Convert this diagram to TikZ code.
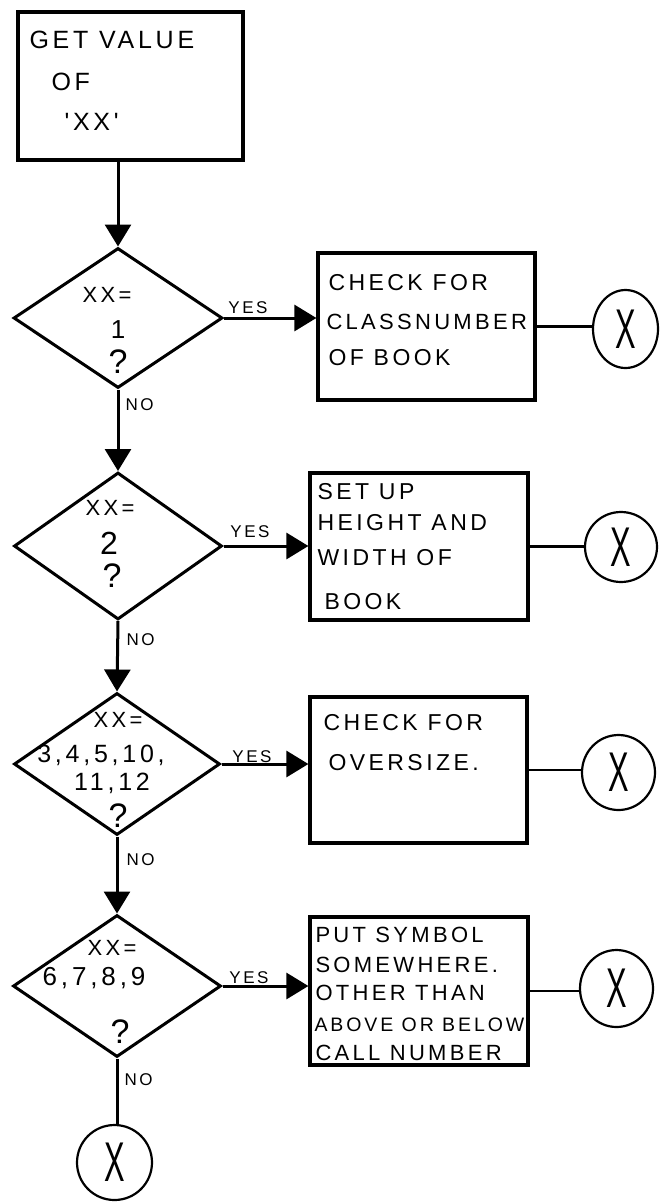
\documentclass[tikz,border=0pt]{standalone}
\usepackage{fontspec}
\newfontfamily\hand{Liberation Sans}[LetterSpace=15]
\usetikzlibrary{shapes.geometric,arrows.meta}
\begin{document}
\begin{tikzpicture}[x=1pt,y=-1pt,
  line width=3pt,
  boxnode/.style={draw, rectangle, inner sep=0pt, line width=3.2pt},
  decnode/.style={draw, diamond, inner sep=0pt, line width=3pt},
  endnode/.style={draw, ellipse, inner sep=0pt, line width=2.2pt, font=\hand\fontsize{56}{56}\selectfont},
  txt/.style={anchor=west, inner sep=0pt, font=\hand\fontsize{23}{23}\selectfont},
  ctxt/.style={inner sep=0pt, font=\hand\fontsize{22}{22}\selectfont},
  qtxt/.style={inner sep=0pt, font=\hand\fontsize{34}{34}\selectfont},
  lbl/.style={inner sep=0pt, font=\hand\fontsize{17}{17}\selectfont},
  flow/.style={-{Triangle[length=22pt,width=26pt]}},
  thinline/.style={line width=2.4pt},
]
\fill[white] (0,0) rectangle (659,1202);
\useasboundingbox (0,0) rectangle (659,1202);

% process boxes
\node[boxnode, minimum width=225pt, minimum height=148pt] (b0) at (130.5,86) {};
\node[boxnode, minimum width=217pt, minimum height=147pt] (b1) at (426.5,326.5) {};
\node[boxnode, minimum width=218pt, minimum height=147pt] (b2) at (419,546.5) {};
\node[boxnode, minimum width=217pt, minimum height=146pt] (b3) at (418.5,770) {};
\node[boxnode, minimum width=218pt, minimum height=148pt] (b4) at (419,991) {};

% decisions
\node[decnode, minimum width=209pt, minimum height=140pt] (d1) at (118,318) {};
\node[decnode, minimum width=208pt, minimum height=147pt] (d2) at (118,546) {};
\node[decnode, minimum width=206pt, minimum height=142pt] (d3) at (117,764) {};
\node[decnode, minimum width=208pt, minimum height=142pt] (d4) at (117,986) {};

% connectors (X)
\node[endnode, minimum width=65pt, minimum height=78pt] (c1) at (625.5,329) {\scalebox{0.55}[1]{X}};
\node[endnode, minimum width=72pt, minimum height=70pt] (c2) at (621,547) {\scalebox{0.55}[1]{X}};
\node[endnode, minimum width=73pt, minimum height=75pt] (c3) at (618.5,772.5) {\scalebox{0.55}[1]{X}};
\node[endnode, minimum width=73pt, minimum height=77pt] (c4) at (616.5,988.5) {\scalebox{0.55}[1]{X}};
\node[endnode, minimum width=75pt, minimum height=75pt] (c5) at (114.5,1162.5) {\scalebox{0.55}[1]{X}};

% texts in boxes
\node[txt, font=\hand\fontsize{25}{25}\selectfont] (t01) at (28,40) {GET VALUE};
\node[txt, font=\hand\fontsize{25}{25}\selectfont] (t02) at (50,82) {OF};
\node[txt, font=\hand\fontsize{25}{25}\selectfont] (t03) at (63,122) {'XX'};

\node[txt] (t11) at (327,283) {CHECK FOR};
\node[txt, font=\hand\fontsize{22}{22}\selectfont] (t12) at (325,322) {CLASSNUMBER};
\node[txt] (t13) at (327,358) {OF BOOK};

\node[txt] (t21) at (316,492) {SET UP};
\node[txt] (t22) at (316,523) {HEIGHT AND};
\node[txt] (t23) at (316,558) {WIDTH OF};
\node[txt] (t24) at (323,602) {BOOK};

\node[txt] (t31) at (322,723) {CHECK FOR};
\node[txt] (t32) at (327,763) {OVERSIZE.};

\node[txt, font=\hand\fontsize{22}{22}\selectfont] (t41) at (314,935) {PUT SYMBOL};
\node[txt, font=\hand\fontsize{22}{22}\selectfont] (t42) at (314,965) {SOMEWHERE.};
\node[txt, font=\hand\fontsize{22}{22}\selectfont] (t43) at (314,993) {OTHER THAN};
\node[txt, font=\hand\fontsize{19.5}{19.5}\selectfont] (t44) at (313,1025) {ABOVE OR BELOW};
\node[txt, font=\hand\fontsize{22}{22}\selectfont] (t45) at (314,1053) {CALL NUMBER};

% texts in decisions
\node[ctxt] (s11) at (107,295) {XX=};
\node[ctxt, font=\hand\fontsize{26}{26}\selectfont] (s12) at (118,330) {1};
\node[qtxt] (s13) at (118,362) {?};

\node[ctxt] (s21) at (110,508) {XX=};
\node[ctxt, font=\hand\fontsize{32}{32}\selectfont] (s22) at (109,543) {2};
\node[qtxt] (s23) at (112,576) {?};

\node[ctxt] (s31) at (118,720) {XX=};
\node[ctxt, font=\hand\fontsize{25}{25}\selectfont] (s32) at (101,755) {3,4,5,10,};
\node[ctxt, font=\hand\fontsize{25}{25}\selectfont] (s33) at (112,783) {11,12};
\node[qtxt] (s34) at (118,816) {?};

\node[ctxt] (s41) at (112,948) {XX=};
\node[ctxt, font=\hand\fontsize{26}{26}\selectfont] (s42) at (94,978) {6,7,8,9};
\node[qtxt] (s43) at (120,1032) {?};

% labels
\node[lbl, anchor=west] (no1) at (124,405) {NO};
\node[lbl, anchor=west] (no2) at (125,640) {NO};
\node[lbl, anchor=west] (no3) at (125,860) {NO};
\node[lbl, anchor=west] (no4) at (123,1080) {NO};
\node[lbl] (y1) at (248,308) {YES};
\node[lbl] (y2) at (250,532) {YES};
\node[lbl] (y3) at (252,757) {YES};
\node[lbl] (y4) at (249,978) {YES};

% flow lines
\draw[flow] (d1.north |- b0.south) -- (d1.north);
\draw[flow] (d1.south) -- (d2.north);
\draw[flow] (d2.south) -- (d3.north);
\draw[flow] (d3.south) -- (d4.north);
\draw (d4.south) -- (d4.south |- c5.north);

\draw[flow] (d1.east) -- (d1.east -| b1.west);
\draw[flow] (d2.east) -- (d2.east -| b2.west);
\draw[flow] (d3.east) -- (d3.east -| b3.west);
\draw[flow] (d4.east) -- (d4.east -| b4.west);

\draw (b1.east) -- (b1.east -| c1.west);
\draw[thinline] (b2.east) -- (b2.east -| c2.west);
\draw[thinline] (b3.east) -- (b3.east -| c3.west);
\draw[thinline] (b4.east) -- (b4.east -| c4.west);
\end{tikzpicture}
\end{document}
